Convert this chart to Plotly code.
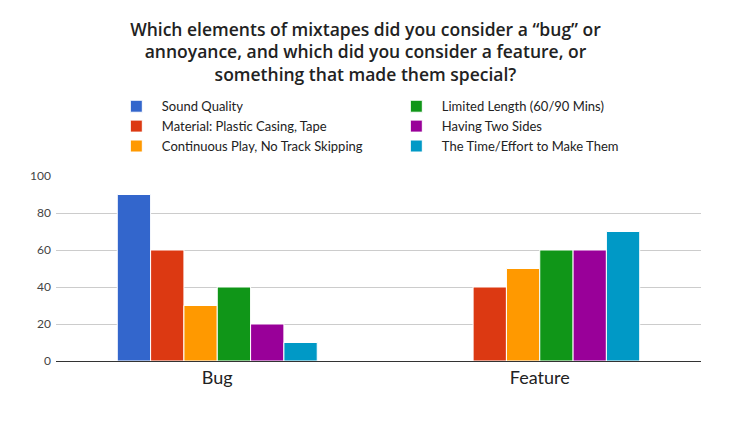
import plotly.graph_objects as go

categories = ["Bug", "Feature"]
series_names = [
    "Sound Quality",
    "Material: Plastic Casing, Tape",
    "Continuous Play, No Track Skipping",
    "Limited Length (60/90 Mins)",
    "Having Two Sides",
    "The Time/Effort to Make Them",
]
sound_quality = [90, 0]
material = [60, 40]
continuous_play = [30, 50]
limited_length = [40, 60]
two_sides = [20, 60]
time_effort = [10, 70]
values = [sound_quality, material, continuous_play, limited_length, two_sides, time_effort]
colors = ["#3366cc", "#dc3912", "#ff9900", "#109618", "#990099", "#0099c6"]
legend_ranks = [1, 3, 5, 2, 4, 6]

fig = go.Figure()
for name, vals, col, rank in zip(series_names, values, colors, legend_ranks):
    fig.add_trace(go.Bar(
        x=categories, y=vals, name=name,
        marker=dict(color=col, line=dict(color="white", width=1)),
        legendrank=rank,
    ))

fig.update_layout(
    width=736, height=426,
    paper_bgcolor="white", plot_bgcolor="white",
    font=dict(family="Lato, Open Sans, sans-serif", color="#222"),
    title=dict(
        text="Which elements of mixtapes did you consider a “bug” or<br>annoyance, and which did you consider a feature, or<br>something that made them special?",
        x=0.4857, xanchor="center", y=0.935, yanchor="top",
        font=dict(size=17.5, color="#222", family="Open Sans, sans-serif", weight=600),
        automargin=False,
    ),
    margin=dict(l=48, r=43, t=168, b=73, autoexpand=False),
    barmode="group", bargap=0.38, bargroupgap=0,
    showlegend=True,
    legend=dict(
        orientation="h", x=0.085, xanchor="left", y=1.458, yanchor="top",
        entrywidth=224, entrywidthmode="pixels",
        font=dict(size=13, color="#222"),
        tracegroupgap=0, itemwidth=41,
        bgcolor="rgba(0,0,0,0)",
    ),
    xaxis=dict(
        tickfont=dict(size=18, color="#222"),
        showline=True, linecolor="#333", linewidth=1,
        showgrid=False, ticks="", automargin=False,
    ),
    yaxis=dict(
        range=[0, 100], dtick=20,
        tickfont=dict(size=12, color="#444"),
        showgrid=True, gridcolor="#cccccc", gridwidth=1,
        zeroline=True, zerolinecolor="#333", zerolinewidth=1,
        ticks="", showline=False, automargin=False, ticklabelstandoff=4,
    ),
)

fig.write_html("out.html")
